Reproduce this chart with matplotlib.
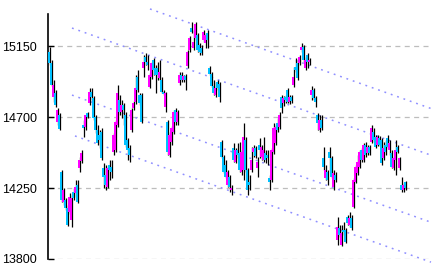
import numpy as np
import matplotlib
matplotlib.use("Agg")
import matplotlib.pyplot as plt

# candle data, one bar per slot
opens = [15112, 15042, 14827, 14852, 14668, 14713,
         14351, 14161, 14174, 14123, 14098, 14047, 14225, 14218, 14269,
         14377, 14421,
         14649, 14637, 14725, 14789, 14858, 14820, 14700, 14618, 14586, 14605,
         14377, 14332, 14256, 14396, 14383,
         14478, 14491, 14649, 14808, 14732, 14776, 14713, 14554, 14504, 14618, 14757, 14795, 14954, 14839, 14839,
         15011, 15080, 15049, 14890, 14954, 15061, 15011, 15011, 14947, 14935, 14858, 14763,
         14668, 14459, 14542, 14605, 14744, 14668,
         14916, 14966, 14935, 14960, 15023,
         15125, 15264, 15137, 15201, 15220, 15156, 15137, 15188, 15169, 15232,
         15011, 14973, 14896, 14839, 14922, 14909,
         14542, 14446, 14396, 14269, 14320, 14237, 14504, 14415, 14491, 14472, 14351, 14364, 14554, 14364, 14288,
         14364, 14478, 14504, 14377, 14523, 14446, 14427, 14472, 14459, 14313, 14301, 14478, 14535, 14662, 14637,
         14827, 14789, 14827, 14871, 14795, 14827,
         14903, 15017, 15042, 15042, 15125, 15144, 15011, 15093, 15049,
         14839, 14871, 14820,
         14713, 14618, 14681,
         14440, 14313, 14351, 14478, 14440, 14256, 14332,
         13920, 13996, 13889, 13984, 13984, 14066, 14015, 14060,
         14130, 14288, 14345, 14383, 14491, 14427, 14523, 14472, 14510, 14542, 14605, 14573,
         14523, 14567, 14554, 14440, 14523, 14567, 14491, 14472, 14377, 14427, 14510, 14377,
         14269, 14237, 14288]

highs = [15144, 15061, 14935, 14871, 14757, 14725,
         14364, 14250, 14187, 14142, 14218, 14206, 14250, 14301, 14301,
         14446, 14491,
         14681, 14713, 14732, 14884, 14884, 14833, 14713, 14649, 14618, 14630,
         14408, 14396, 14383, 14427, 14427,
         14599, 14681, 14903, 14839, 14808, 14789, 14732, 14567, 14523, 14757, 14801, 14966, 14998, 14852, 14852,
         15093, 15106, 15093, 14979, 15049, 15074, 15030, 15049, 15061, 14954, 14871, 14858,
         14681, 14605, 14640, 14744, 14757, 14744,
         14985, 14985, 14966, 14973, 15125,
         15213, 15302, 15251, 15302, 15232, 15169, 15156, 15251, 15232, 15251,
         15023, 14985, 14935, 14922, 14935, 14922,
         14554, 14459, 14427, 14364, 14332, 14269, 14535, 14504, 14535, 14542, 14491, 14662, 14573, 14377, 14332,
         14510, 14523, 14516, 14446, 14567, 14523, 14573, 14491, 14491, 14332, 14504, 14662, 14649, 14694, 14732,
         14839, 14833, 14839, 14884, 14839, 14839,
         15017, 15074, 15061, 15093, 15169, 15156, 15080, 15106, 15074,
         14896, 14884, 14833,
         14725, 14713, 14713,
         14510, 14396, 14364, 14510, 14453, 14364, 14351,
         14066, 14015, 14015, 14035, 13996, 14079, 14098, 14079,
         14313, 14396, 14459, 14491, 14504, 14535, 14542, 14523, 14523, 14649, 14630, 14586,
         14586, 14580, 14567, 14542, 14554, 14586, 14554, 14491, 14446, 14554, 14523, 14446,
         14320, 14282, 14294]

lows = [15030, 14896, 14795, 14763, 14649, 14618,
        14161, 14142, 14111, 14009, 14085, 14003, 14174, 14193, 14155,
        14351, 14408,
        14573, 14618, 14694, 14776, 14808, 14681, 14599, 14523, 14504, 14427,
        14250, 14237, 14250, 14301, 14313,
        14459, 14478, 14637, 14713, 14694, 14649, 14510, 14427, 14415, 14605, 14744, 14782, 14858, 14776, 14662,
        14954, 15030, 14998, 14884, 14941, 14966, 14852, 14935, 14935, 14852, 14839, 14732,
        14459, 14446, 14523, 14592, 14649, 14649,
        14903, 14922, 14922, 14871, 15011,
        15112, 15232, 15125, 15188, 15112, 15093, 15093, 15175, 15137, 15137,
        14966, 14890, 14839, 14827, 14871, 14795,
        14440, 14345, 14313, 14256, 14225, 14206, 14415, 14408, 14440, 14351, 14332, 14301, 14351, 14206, 14237,
        14351, 14446, 14440, 14320, 14440, 14427, 14415, 14408, 14396, 14237, 14288, 14465, 14523, 14605, 14624,
        14725, 14770, 14789, 14789, 14782, 14789,
        14890, 14985, 14935, 15030, 15112, 15049, 14998, 15011, 15030,
        14808, 14808, 14763,
        14618, 14605, 14618,
        14364, 14301, 14269, 14364, 14313, 14237, 14288,
        13889, 13939, 13882, 13952, 13901, 14015, 14003, 13984,
        14123, 14282, 14332, 14377, 14415, 14415, 14446, 14459, 14459, 14535, 14542, 14504,
        14516, 14516, 14396, 14427, 14459, 14504, 14459, 14377, 14364, 14332, 14472, 14364,
        14225, 14225, 14237]

closes = [15042, 14903, 14903, 14776, 14744, 14624,
          14174, 14237, 14123, 14015, 14193, 14187, 14187, 14256, 14161,
          14427, 14472,
          14630, 14713, 14700, 14858, 14827, 14694, 14618, 14535, 14554, 14440,
          14320, 14269, 14377, 14364, 14351,
          14586, 14668, 14852, 14732, 14776, 14744, 14523, 14491, 14459, 14744, 14789, 14884, 14871, 14789, 14668,
          15049, 15049, 15030, 14966, 15042, 14998, 14966, 14966, 14985, 14858, 14846, 14852,
          14478, 14586, 14630, 14732, 14668, 14732,
          14966, 14935, 14960, 14935, 15112,
          15201, 15239, 15175, 15289, 15125, 15112, 15106, 15239, 15220, 15188,
          14973, 14896, 14852, 14884, 14884, 14827,
          14446, 14351, 14320, 14351, 14256, 14250, 14427, 14491, 14459, 14364, 14478, 14573, 14364, 14237, 14269,
          14427, 14504, 14453, 14415, 14491, 14510, 14491, 14427, 14440, 14288, 14491, 14630, 14637, 14618, 14713,
          14757, 14820, 14808, 14795, 14827, 14801,
          14954, 14998, 14947, 15080, 15144, 15061, 15061, 15049, 15061,
          14871, 14820, 14795,
          14662, 14681, 14630,
          14383, 14364, 14301, 14440, 14320, 14345, 14301,
          14003, 13952, 13965, 13971, 13908, 14028, 14060, 13996,
          14301, 14383, 14415, 14478, 14427, 14523, 14459, 14510, 14472, 14630, 14554, 14510,
          14573, 14523, 14408, 14504, 14478, 14510, 14535, 14383, 14440, 14491, 14478, 14440,
          14237, 14269, 14250]

y_ticks = [13800, 14250, 14700, 15150]

# channel lines: (start bar, start price, end bar, end price)
channel_lines = [(50.5, 15385, 191.0, 14754),
                 (11.5, 15264, 191.0, 14458),
                 (11.5, 14839, 191.0, 14033),
                 (13.0, 14580, 191.0, 13780)]

up_color = "#ff00ff"
down_color = "#00c0ff"

fig = plt.figure(figsize=(4.35, 2.73), dpi=100)
ax = fig.add_axes([0.1103, 0.0513, 0.8828, 0.8974])

x = np.arange(len(opens))
o = np.array(opens)
h = np.array(highs)
l = np.array(lows)
c = np.array(closes)
up = c >= o
colors = np.where(up, up_color, down_color)

# wicks, then bodies on top
ax.vlines(x + 0.45, l, h, color="black", linewidth=0.9, zorder=3)
body_bottom = np.minimum(o, c)
body_height = np.maximum(np.abs(c - o), 4)
ax.bar(x, body_height, bottom=body_bottom, width=1.0, color=colors,
       linewidth=0, zorder=4, align="center")

for x0, y0, x1, y1 in channel_lines:
    ax.plot([x0, x1], [y0, y1], color="#8f8fff", linewidth=1.1,
            linestyle=(0, (1.2, 3.2)), clip_on=False, zorder=2)

for yv in y_ticks:
    ax.axhline(yv, color="#bdbdbd", linewidth=0.9, linestyle=(0, (4, 3.5)),
               zorder=1)

ax.set_xlim(-0.5, 191.5)
ax.set_ylim(13800, 15353)
ax.set_yticks(y_ticks)
ax.set_yticklabels([str(v) for v in y_ticks], fontfamily="Liberation Sans",
                   fontsize=9)
ax.tick_params(axis="y", direction="in", length=4, width=1, pad=8)
ax.set_xticks([])
for side in ["top", "right", "bottom"]:
    ax.spines[side].set_visible(False)
ax.spines["left"].set_linewidth(1.2)

fig.savefig("out.png", dpi=100)
